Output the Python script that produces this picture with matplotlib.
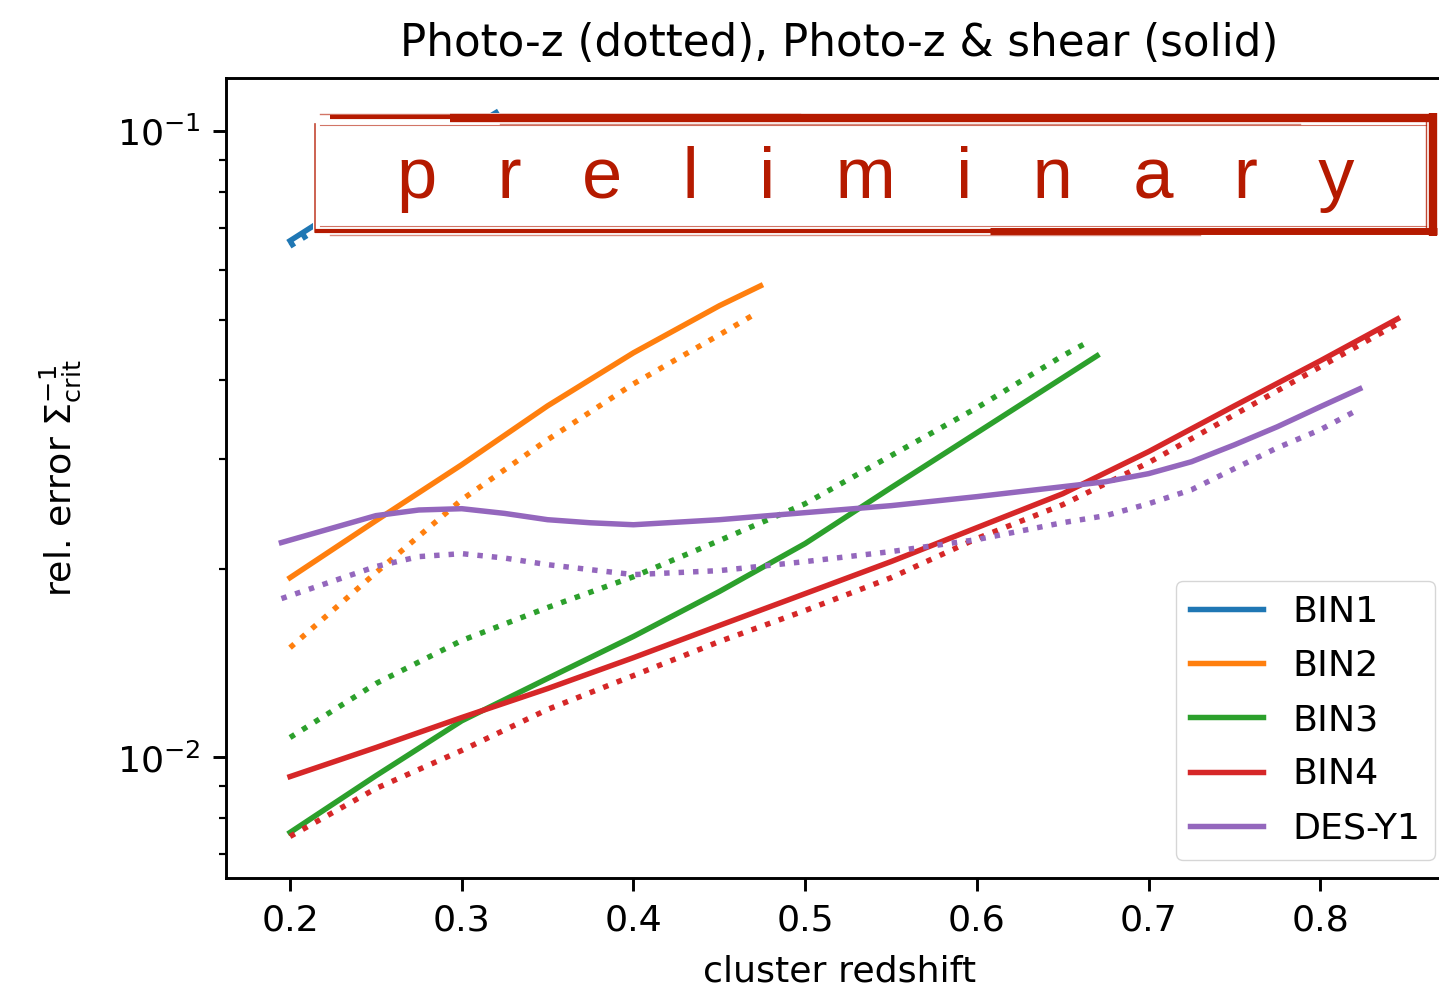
import numpy as np
import matplotlib
matplotlib.use('Agg')
import matplotlib.pyplot as plt
from matplotlib.patches import Rectangle
from matplotlib.ticker import NullFormatter


# cluster redshift grids and relative error on Sigma_crit^-1
z_bin1 = [0.2, 0.26, 0.32]
bin1_shear = [0.0668, 0.085, 0.107]
bin1_pz = [0.0655, 0.083, 0.105]

z_bin2_shear = [0.2, 0.25, 0.3, 0.35, 0.4, 0.45, 0.474]
bin2_shear = [0.01936, 0.02387, 0.02933, 0.03641, 0.04425, 0.05260, 0.0566]
z_bin2_pz = [0.2, 0.25, 0.3, 0.35, 0.4, 0.45, 0.469]
bin2_pz = [0.01497, 0.01972, 0.02579, 0.03215, 0.03948, 0.04727, 0.05070]

z_bin3_shear = [0.2, 0.25, 0.3, 0.35, 0.4, 0.45, 0.5, 0.55, 0.6, 0.65, 0.67]
bin3_shear = [0.00759, 0.00935, 0.01144, 0.01337, 0.01560, 0.01840, 0.02195,
              0.02695, 0.03298, 0.04037, 0.04377]
z_bin3_pz = [0.2, 0.25, 0.3, 0.35, 0.4, 0.45, 0.5, 0.55, 0.6, 0.65, 0.665]
bin3_pz = [0.01076, 0.01312, 0.01537, 0.01735, 0.01943, 0.02219, 0.02541,
           0.03032, 0.03615, 0.04377, 0.04608]

z_bin4 = [0.2, 0.25, 0.3, 0.35, 0.4, 0.45, 0.5, 0.55, 0.6, 0.65, 0.7, 0.75,
          0.8, 0.845]
bin4_shear = [0.00932, 0.01037, 0.01158, 0.01288, 0.01443, 0.01624, 0.01826,
              0.02054, 0.02327, 0.02636, 0.03077, 0.03641, 0.04297, 0.05013]
bin4_pz = [0.00748, 0.00892, 0.01026, 0.01193, 0.01351, 0.01531, 0.01716,
           0.01936, 0.02236, 0.02532, 0.02955, 0.03524, 0.04203, 0.04922]

z_des = [0.195, 0.25, 0.275, 0.3, 0.325, 0.35, 0.375, 0.4, 0.45, 0.5, 0.55,
         0.6, 0.65, 0.675, 0.7, 0.725, 0.75, 0.775, 0.8, 0.823]
des_shear = [0.02203, 0.02432, 0.02483, 0.02495, 0.02452, 0.02396, 0.02369,
             0.02352, 0.02396, 0.02459, 0.02523, 0.02608, 0.02705, 0.02755,
             0.02838, 0.02965, 0.03155, 0.03372, 0.03629, 0.03877]
des_pz = [0.01793, 0.02017, 0.02092, 0.02115, 0.02081, 0.02031, 0.01994,
          0.01958, 0.01987, 0.02054, 0.02131, 0.02227, 0.02370, 0.02432,
          0.02541, 0.02675, 0.02891, 0.03121, 0.03335, 0.03602]

labels = ['BIN1', 'BIN2', 'BIN3', 'BIN4', 'DES-Y1']

s = 2.62  # scale of the original small figure
W, H = 1439, 988
fig = plt.figure(figsize=(W / 100, H / 100), dpi=100)
ax = fig.add_axes([226 / W, 1 - 878 / H, (1453 - 226) / W, 800 / H])

lw = 1.5 * s
series = [
    (z_bin1, bin1_shear, z_bin1, bin1_pz),
    (z_bin2_shear, bin2_shear, z_bin2_pz, bin2_pz),
    (z_bin3_shear, bin3_shear, z_bin3_pz, bin3_pz),
    (z_bin4, bin4_shear, z_bin4, bin4_pz),
    (z_des, des_shear, z_des, des_pz),
]
for i, (zs, ys, zp, yp) in enumerate(series):
    ax.plot(zs, ys, color='C%d' % i, lw=lw, label=labels[i])
    ax.plot(zp, yp, color='C%d' % i, lw=lw, ls=':')

ax.set_yscale('log')
ax.set_xlim(0.1627, 0.8773)
ax.set_ylim(0.00642, 0.1215)
ax.yaxis.set_minor_formatter(NullFormatter())

fs = 10 * s
ax.tick_params(which='major', length=3.5 * s, width=0.8 * s, pad=3.5 * s,
               labelsize=fs)
ax.tick_params(which='minor', length=2 * s, width=0.6 * s)
for sp in ax.spines.values():
    sp.set_linewidth(0.8 * s)

ax.set_title('Photo-z (dotted), Photo-z & shear (solid)', fontsize=12 * s,
             pad=6 * s)
ax.set_xlabel('cluster redshift', fontsize=fs, labelpad=3.5 * s + 3)
ax.set_ylabel(r'rel. error $\Sigma_{\rm crit}^{-1}$', fontsize=fs,
              labelpad=3.5 * s + 15)
ax.legend(loc='lower right', fontsize=fs, labelspacing=0.55)

# "preliminary" stamp drawn over the plot in pixel coordinates
ov = fig.add_axes([0, 0, 1, 1], zorder=10)
ov.set_xlim(0, W)
ov.set_ylim(H, 0)
ov.axis('off')
red = '#b51a00'
ov.add_patch(Rectangle((313, 113), 1124, 123, facecolor='white',
                       edgecolor='none'))
ov.plot([450, 1437], [118, 118], color=red, lw=6, solid_capstyle='butt')
ov.plot([330, 460], [117, 117], color=red, lw=3, solid_capstyle='butt')
ov.plot([320, 800], [114, 114], color=red, lw=1, alpha=0.6)
ov.plot([500, 1300], [124, 124], color=red, lw=1, alpha=0.5)
ov.plot([315, 1000], [231, 231], color=red, lw=3, solid_capstyle='butt')
ov.plot([990, 1437], [231, 231], color=red, lw=5, solid_capstyle='butt')
ov.plot([330, 1200], [235, 235], color=red, lw=1, alpha=0.5)
ov.plot([1433, 1433], [113, 236], color=red, lw=6, solid_capstyle='butt')
ov.plot([1426, 1426], [122, 227], color=red, lw=1, alpha=0.8)
ov.plot([315, 315], [124, 232], color=red, lw=1.2, alpha=0.8)
ov.plot([320, 1426], [125, 125], color=red, lw=0.8, alpha=0.6)
ov.plot([320, 1426], [226, 226], color=red, lw=0.8, alpha=0.6)
ov.text(876, 198, 'p   r   e   l   i   m   i   n   a   r   y', color=red,
        fontsize=52, family='Liberation Sans', ha='center', va='baseline')

fig.savefig('out.png', dpi=100)
